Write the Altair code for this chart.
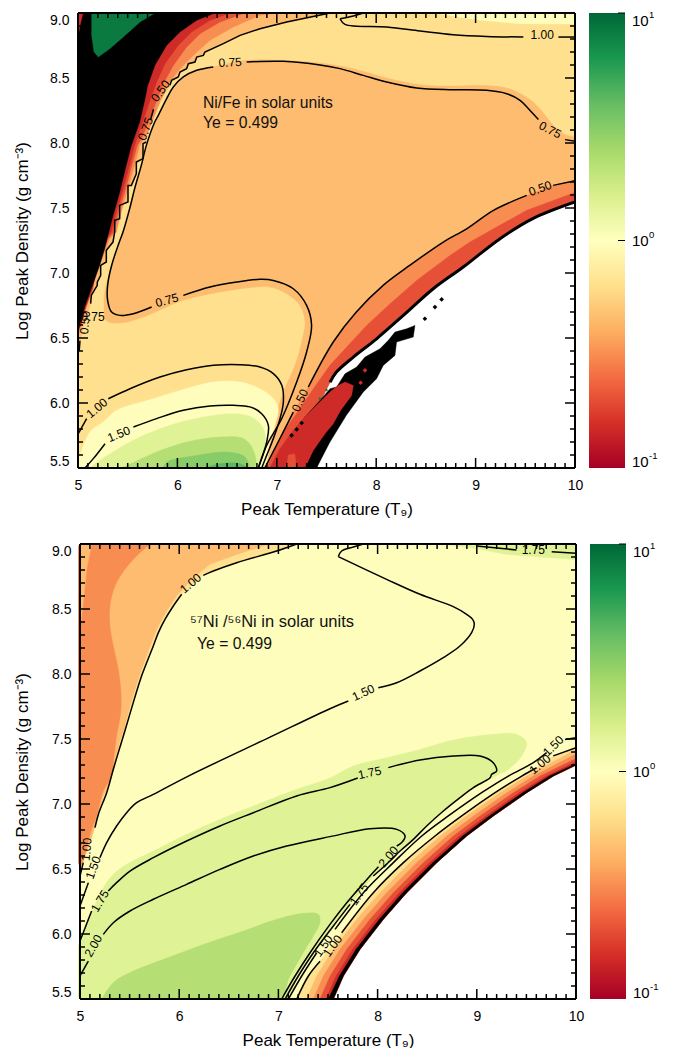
import altair as alt
import pandas as pd

FONT = "Liberation Sans"
W1, W2, H = 497, 498, 455

RED, VERM, ORNG, TAN, BUFF, CREAM, LIME, GRN1, GRN2, GRN3, DKGRN = (
    "#CE2A27", "#E65036", "#F88D52", "#FDBC6F", "#FEE08F", "#FEFDBC",
    "#E0F296", "#B5DF74", "#88CC69", "#5AB762", "#0B7A41")

BAR_COLORS = ["#a50026", "#d73027", "#f46d43", "#fdae61", "#fee08b", "#ffffbf",
              "#d9ef8b", "#a6d96a", "#66bd63", "#1a9850", "#006837"]
BAR_OFFSETS = [0, .1, .2, .3, .4, .5, .6, .7, .8, .9, 1]
X_MAJOR = [5, 6, 7, 8, 9, 10]
Y_MAJOR = [5.5, 6.0, 6.5, 7.0, 7.5, 8.0, 8.5, 9.0]
X_MINOR = [5 + i / 10 for i in range(51) if i % 10]
Y_MINOR = [5.5 + i / 10 for i in range(36) if i % 5]

# ---------- top panel ----------
A_EDGE = [(10, 7.546), (9.58, 7.42), (9.246, 7.264), (8.876, 7.046), (8.574, 6.879), (8.273, 6.674),
          (8.004, 6.494), (7.77, 6.353), (7.60, 6.238), (7.535, 6.16)]
A_DOMAIN = [(5, 9), (10, 9)] + A_EDGE + [(7.45, 6.03), (7.28, 5.89), (7.2, 5.65), (7.2, 5.5), (5, 5.5)]
A_CREAM_TOP = [(8.575, 9), (9.045, 8.944), (9.447, 8.918), (10, 8.915), (10, 9)]
A_C050_LOW = [(10, 7.71), (9.78, 7.674), (9.514, 7.597), (9.18, 7.482), (8.91, 7.34), (8.675, 7.238), (8.34, 7.06),
              (8.07, 6.905), (7.80, 6.70), (7.568, 6.469), (7.317, 6.123), (7.166, 5.93), (7.03, 5.725), (6.88, 5.5)]
A_TAN = [(10, 8.046), (9.883, 8.072), (9.782, 8.136), (9.615, 8.29), (9.48, 8.367), (9.313, 8.423), (9.045, 8.444),
         (8.776, 8.438), (8.441, 8.449), (8.106, 8.50), (7.77, 8.572), (7.435, 8.615), (7.066, 8.636), (6.697, 8.636),
         (6.36, 8.585), (6.194, 8.559), (6.076, 8.508), (5.976, 8.431), (5.892, 8.328), (5.791, 8.187), (5.707, 8.008),
         (5.624, 7.802), (5.54, 7.572), (5.456, 7.34), (5.416, 7.2385), (5.339, 7.06), (5.282, 6.905), (5.262, 6.751),
         (5.282, 6.636), (5.422, 6.615), (5.657, 6.661), (6.06, 6.79), (6.428, 6.854), (6.73, 6.887), (6.93, 6.892),
         (7.10, 6.84), (7.233, 6.75), (7.284, 6.623), (7.25, 6.469), (7.183, 6.29), (7.066, 6.084), (6.965, 5.853),
         (6.864, 5.648), (6.804, 5.5), (6.88, 5.5), (7.03, 5.725), (7.166, 5.93), (7.317, 6.123), (7.568, 6.469),
         (7.80, 6.70), (8.07, 6.905), (8.34, 7.06), (8.675, 7.238), (8.91, 7.34), (9.18, 7.482), (9.514, 7.597),
         (9.78, 7.674), (10, 7.71)]
A_ORNG_LOW = A_C050_LOW + [(7.2, 5.5), (7.2, 5.65), (7.28, 5.89), (7.45, 6.03)] + A_EDGE[::-1]
A_VERM_LOW = [(10, 7.62), (9.514, 7.482), (9.18, 7.34), (8.943, 7.238), (8.742, 7.135), (8.407, 6.943), (8.14, 6.764),
              (7.904, 6.597), (7.703, 6.43), (7.535, 6.29), (7.367, 6.11), (7.233, 5.956), (7.065, 5.776), (6.90, 5.5),
              (7.2, 5.5), (7.2, 5.65), (7.28, 5.89), (7.45, 6.03)] + A_EDGE[::-1]
A_BLACK_LOW = [(7.233, 5.5), (7.40, 5.5), (7.535, 5.70), (7.70, 5.905), (7.87, 6.084), (8.004, 6.187), (8.071, 6.289),
               (8.189, 6.366), (8.205, 6.469), (8.373, 6.507), (8.39, 6.597), (8.306, 6.571), (8.189, 6.546),
               (8.122, 6.482), (8.038, 6.417), (7.887, 6.353), (7.803, 6.276), (7.686, 6.225), (7.602, 6.123),
               (7.535, 6.11), (7.434, 6.02), (7.283, 5.892), (7.2, 5.79), (7.132, 5.648)]
A_RED_LOW = [(7.686, 6.161), (7.77, 6.135), (7.753, 6.058), (7.642, 5.943), (7.568, 5.84), (7.485, 5.764), (7.367, 5.635),
             (7.283, 5.5), (6.931, 5.5), (7.032, 5.648), (7.166, 5.79), (7.30, 5.905), (7.434, 6.007), (7.535, 6.084),
             (7.609, 6.13)]
A_VERM_PATCH = [(7.10, 5.5), (7.115, 5.60), (7.18, 5.61), (7.2, 5.5)]
A_STAIR = [(5.687, 8.008), (5.654, 7.995), (5.654, 7.88), (5.587, 7.854), (5.587, 7.764), (5.537, 7.674), (5.503, 7.674),
           (5.503, 7.546), (5.419, 7.52), (5.419, 7.418), (5.369, 7.405), (5.369, 7.315), (5.352, 7.238), (5.285, 7.174), (5.285, 7.085),
           (5.228, 7.059), (5.228, 6.982), (5.194, 6.93), (5.194, 6.905), (5.134, 6.828), (5.127, 6.764)]
A_TOP_ZIG = [(7.535, 9.0), (7.099, 8.931), (6.831, 8.879), (6.63, 8.828), (6.462, 8.764), (6.277, 8.70), (6.261, 8.674),
             (6.194, 8.661), (6.177, 8.623), (6.11, 8.61), (6.093, 8.572), (6.026, 8.546), (6.009, 8.508), (5.942, 8.482),
             (5.925, 8.444)]
A_TAN_LEFT = A_TOP_ZIG + [(5.76, 8.26), (5.73, 8.18)] + A_STAIR + [(5.06, 6.60), (5.02, 6.48), (5, 6.45), (5, 9)]
A_ORNG_LEFT = [(7.0, 9), (6.831, 8.982), (6.563, 8.892), (6.328, 8.79), (6.177, 8.687), (6.026, 8.572), (5.925, 8.469),
               (5.825, 8.315), (5.704, 8.085), (5.62, 7.98), (5.57, 7.828), (5.503, 7.649), (5.436, 7.47), (5.386, 7.315),
               (5.319, 7.264), (5.268, 7.161), (5.218, 7.059), (5.184, 6.982), (5.141, 6.88), (5.10, 6.777), (5.05, 6.649),
               (5.017, 6.546), (5, 6.5), (5, 9)]
A_VERM_LEFT = [(6.68, 9), (6.429, 8.931), (6.227, 8.84), (6.093, 8.738), (5.959, 8.597), (5.858, 8.456), (5.774, 8.29),
               (5.654, 8.059), (5.597, 7.98), (5.543, 7.828), (5.48, 7.649), (5.409, 7.47), (5.362, 7.315), (5.302, 7.264),
               (5.252, 7.161), (5.201, 7.059), (5.168, 6.97), (5.117, 6.88), (5.084, 6.79), (5.04, 6.674), (5.01, 6.57),
               (5, 6.55), (5, 9)]
A_RED_LEFT = [(6.529, 9), (6.328, 8.944), (6.143, 8.854), (6.009, 8.751), (5.875, 8.61), (5.791, 8.469), (5.707, 8.29),
              (5.627, 8.11), (5.57, 7.98), (5.52, 7.828), (5.456, 7.649), (5.386, 7.47), (5.335, 7.315), (5.285, 7.264),
              (5.241, 7.161), (5.19, 7.059), (5.15, 6.88), (5.08, 6.738), (5.03, 6.60), (5, 6.55), (5, 9)]
A_BLACK_LEFT = [(6.378, 9), (6.194, 8.944), (6.026, 8.854), (5.892, 8.751), (5.775, 8.60), (5.70, 8.44), (5.674, 8.338),
                (5.62, 8.16), (5.537, 7.98), (5.486, 7.83), (5.419, 7.62), (5.352, 7.44), (5.309, 7.31), (5.268, 7.187),
                (5.218, 7.059), (5.134, 6.88), (5.067, 6.738), (5.017, 6.60), (5, 6.546), (5, 9)]
A_DKGRN = [(5.137, 9), (5.775, 9), (5.624, 8.931), (5.456, 8.815), (5.322, 8.726), (5.205, 8.661), (5.161, 8.70), (5.137, 8.828)]
A_RED_SLIVER = [(5, 9), (5.05, 9), (5.02, 8.9), (5, 8.82)]
A_CREAM = [(5, 5.55), (5.12, 5.777), (5.255, 5.854), (5.389, 5.944), (5.758, 6.033), (6.026, 6.097), (6.362, 6.162),
           (6.63, 6.162), (6.83, 6.11), (6.965, 6.033), (7.015, 5.956), (6.982, 5.828), (6.932, 5.70), (6.848, 5.5), (5, 5.5)]
A_LIME = [(5.12, 5.5), (5.171, 5.533), (5.322, 5.61), (5.59, 5.726), (5.925, 5.828), (6.261, 5.892), (6.563, 5.918),
          (6.747, 5.892), (6.865, 5.803), (6.881, 5.674), (6.83, 5.546), (6.797, 5.5)]
A_GRN1 = [(5.44, 5.5), (5.791, 5.623), (6.093, 5.70), (6.429, 5.738), (6.663, 5.726), (6.764, 5.636), (6.77, 5.5)]
A_GRN2 = [(5.858, 5.5), (5.892, 5.546), (6.194, 5.597), (6.496, 5.623), (6.68, 5.585), (6.713, 5.5)]
A_GRN3 = [(6.261, 5.5), (6.429, 5.533), (6.63, 5.533), (6.697, 5.5)]

A_BLOBS = [(8.49, 6.648), (8.591, 6.738), (8.658, 6.797), (7.25, 5.846), (7.20, 5.797), (7.149, 5.751)]
A_RED_DOTS = [(7.887, 6.251), (7.843, 6.156)]
A_GRN_DOTS = [(7.50, 6.10), (7.434, 6.033)]

A_LINES = [
    [(10, 7.71), (9.78, 7.674)],
    [(9.514, 7.597), (9.18, 7.482), (8.91, 7.34), (8.675, 7.238), (8.34, 7.06), (8.07, 6.905), (7.80, 6.70), (7.568, 6.469), (7.317, 6.123)],
    [(7.166, 5.93), (7.03, 5.725), (6.88, 5.5)],
    [(6.361, 8.585), (6.194, 8.559), (6.06, 8.508), (5.959, 8.431), (5.892, 8.341), (5.808, 8.213), (5.771, 8.16), (5.687, 7.98),
     (5.637, 7.828), (5.57, 7.649), (5.52, 7.495), (5.453, 7.315), (5.416, 7.2385), (5.339, 7.06), (5.298, 6.905), (5.298, 6.79),
     (5.338, 6.70), (5.422, 6.674), (5.557, 6.687), (5.741, 6.738)],
    [(6.06, 6.828), (6.328, 6.892), (6.596, 6.93), (6.83, 6.951), (6.965, 6.943), (7.166, 6.879), (7.30, 6.751), (7.35, 6.597),
     (7.30, 6.392), (7.20, 6.161), (7.049, 5.879), (6.898, 5.674), (6.814, 5.5)],
    [(6.697, 8.623), (7.066, 8.628), (7.435, 8.60), (7.636, 8.572), (7.871, 8.52), (8.106, 8.469), (8.408, 8.423), (8.776, 8.41),
     (9.112, 8.405), (9.313, 8.379), (9.447, 8.328), (9.548, 8.25), (9.632, 8.18)],
    [(9.9, 8.026), (10, 8.013)],
    [(7.871, 9.0), (7.77, 8.977), (7.636, 8.956)],
    [(7.636, 8.956), (7.686, 8.913), (8.106, 8.892), (8.441, 8.862), (8.776, 8.833), (9.112, 8.82), (9.48, 8.815)],
    [(9.833, 8.815), (10, 8.815)],
    [(5, 5.76), (5.087, 5.879)],
    [(5.305, 6.033), (5.523, 6.11), (5.825, 6.2), (6.093, 6.256), (6.362, 6.29), (6.63, 6.295), (6.83, 6.277), (6.965, 6.226),
     (7.05, 6.136), (7.066, 6.008), (7.032, 5.879), (6.965, 5.726), (6.898, 5.597), (6.848, 5.5)],
    [(5.07, 5.5), (5.154, 5.572), (5.272, 5.687)],
    [(5.557, 5.815), (5.791, 5.88), (6.06, 5.944), (6.328, 5.977), (6.563, 5.982), (6.73, 5.97), (6.848, 5.918), (6.915, 5.828),
     (6.898, 5.70), (6.848, 5.572), (6.814, 5.5)],
]
A_ZIGS = [A_TOP_ZIG, [(5.76, 8.26), (5.73, 8.18)], A_STAIR, [(5.02, 6.48), (5.012, 6.40)]]
A_LABELS = [("0.75", 6.53, 8.62, 357), ("0.75", 9.75, 8.10, 27), ("0.75", 5.895, 6.79, 345), ("1.00", 9.67, 8.83, 0),
            ("0.50", 9.65, 7.65, 340), ("1.00", 5.19, 5.96, 320), ("1.50", 5.41, 5.76, 338), ("0.50", 7.233, 6.02, 295),
            ("0.50", 5.83, 8.40, 305), ("0.75", 5.68, 8.108, 290), ("0.75", 5.15, 6.66, 0), ("0.50", 5.07, 6.62, 275)]

# ---------- bottom panel ----------
B_EDGE = [(10, 7.30), (9.772, 7.215), (9.503, 7.087), (9.167, 6.908), (8.898, 6.754), (8.596, 6.549), (8.293, 6.318),
          (8.058, 6.113), (7.823, 5.882), (7.655, 5.677), (7.554, 5.5)]
B_DOMAIN = [(5, 9), (10, 9)] + B_EDGE + [(5, 5.5)]
B_C100_LOW = [(10, 7.433), (9.771, 7.37), (9.603, 7.279), (9.453, 7.215), (9.184, 7.087), (8.848, 6.908), (8.579, 6.754),
              (8.26, 6.549), (7.957, 6.318), (7.638, 6.01), (7.302, 5.677), (7.185, 5.5)]
B_TAN_LOW = [(10, 7.42), (9.503, 7.215), (9.234, 7.087), (8.898, 6.908), (8.63, 6.754), (8.327, 6.549), (8.025, 6.318),
             (7.789, 6.113), (7.554, 5.882), (7.386, 5.677), (7.285, 5.5)]
B_ORNG_LOW = [(10, 7.385), (9.57, 7.215), (9.302, 7.087), (8.966, 6.908), (8.697, 6.754), (8.394, 6.549), (8.092, 6.318),
              (7.857, 6.113), (7.621, 5.882), (7.453, 5.677), (7.353, 5.5)]
B_VERM_LOW = [(10, 7.35), (9.637, 7.215), (9.369, 7.087), (9.033, 6.908), (8.764, 6.754), (8.461, 6.549), (8.159, 6.318),
              (7.924, 6.113), (7.689, 5.882), (7.521, 5.677), (7.42, 5.5)]
B_RED_LOW = [(10, 7.325), (9.698, 7.215), (9.429, 7.087), (9.093, 6.908), (8.824, 6.754), (8.522, 6.549), (8.22, 6.318),
             (7.984, 6.113), (7.749, 5.882), (7.581, 5.677), (7.48, 5.5)]
B_BLACK_LOW = [(10, 7.31), (9.732, 7.215), (9.463, 7.087), (9.127, 6.908), (8.858, 6.754), (8.556, 6.549), (8.253, 6.318),
               (8.018, 6.113), (7.783, 5.882), (7.615, 5.677), (7.504, 5.5)]
B_LIME = [(5, 5.96), (5.1, 6.138), (5.235, 6.356), (5.336, 6.459), (5.47, 6.536), (5.739, 6.638), (6.075, 6.767), (6.411, 6.882),
          (6.747, 6.985), (7.184, 7.113), (7.52, 7.2), (7.755, 7.292), (8.091, 7.356), (8.427, 7.42), (8.763, 7.492), (9.166, 7.536),
          (9.4, 7.536), (9.502, 7.472), (9.452, 7.369), (9.318, 7.267), (9.15, 7.20), (8.966, 7.12), (8.831, 7.05), (8.663, 6.95),
          (8.495, 6.83), (8.361, 6.73), (8.226, 6.64), (8.125, 6.56), (7.957, 6.44), (7.72, 6.22), (7.55, 6.05), (7.35, 5.85),
          (7.2, 5.67), (7.05, 5.5), (5, 5.5)]
B_LIME_TOP = [(8.662, 9), (9.032, 8.959), (9.3, 8.92), (9.637, 8.90), (10, 8.88), (10, 9)]
B_GRN1 = [(5.218, 5.5), (5.336, 5.626), (5.504, 5.703), (5.84, 5.805), (6.243, 5.92), (6.646, 6.023), (6.982, 6.113), (7.251, 6.159),
          (7.402, 6.151), (7.419, 6.087), (7.352, 5.985), (7.251, 5.856), (7.117, 5.677), (6.999, 5.5)]
B_C100_TOP = [(7.184, 9), (6.982, 8.946), (6.579, 8.856), (6.344, 8.792), (6.243, 8.759)]
B_C100_MID = [(6.025, 8.613), (5.941, 8.523), (5.857, 8.42), (5.79, 8.318), (5.739, 8.215), (5.679, 8.1), (5.621, 7.985), (5.588, 7.908),
              (5.537, 7.78), (5.487, 7.651), (5.437, 7.523), (5.386, 7.395), (5.336, 7.267), (5.269, 7.087), (5.185, 6.92), (5.151, 6.818)]
B_C100_END = [(5.033, 6.549), (5, 6.446)]
B_BUFF_LEFT = B_C100_TOP + B_C100_MID + B_C100_END + [(5, 9)]
B_TAN_LEFT = [(6.915, 9), (6.579, 8.92), (6.31, 8.844), (6.142, 8.741), (5.974, 8.6), (5.873, 8.484), (5.773, 8.344), (5.689, 8.177),
              (5.621, 8.036), (5.554, 7.882), (5.504, 7.754), (5.453, 7.6), (5.396, 7.472), (5.353, 7.318), (5.319, 7.215), (5.302, 7.164),
              (5.235, 7.062), (5.185, 6.93), (5.151, 6.83), (5.1, 6.7), (5, 6.5), (5, 9)]
B_ORNG_LEFT = [(5.705, 9), (5.571, 8.908), (5.453, 8.805), (5.353, 8.677), (5.302, 8.523), (5.302, 8.369), (5.336, 8.215), (5.386, 8.036),
               (5.413, 7.856), (5.41, 7.7), (5.369, 7.523), (5.336, 7.318), (5.319, 7.215), (5.235, 7.1), (5.168, 6.908), (5.117, 6.805),
               (5, 6.52), (5, 9)]
B_TAN_CORNER = [(5, 9), (5.117, 9), (5.067, 8.805), (5.033, 8.549), (5, 8.343)]

B_LINES = [
    B_C100_TOP, B_C100_MID, B_C100_END,
    [(7.856, 9), (7.755, 8.977), (7.637, 8.946), (7.604, 8.903)],
    [(7.604, 8.903), (8.091, 8.728), (8.427, 8.613), (8.763, 8.518), (8.897, 8.459), (8.958, 8.42),
     (8.975, 8.382), (8.948, 8.318), (8.83, 8.215), (8.662, 8.126), (8.427, 8.023), (8.192, 7.933), (8.007, 7.895)],
    [(7.705, 7.792), (7.52, 7.733), (6.915, 7.514), (6.092, 7.215), (5.739, 7.074), (5.571, 7.01), (5.47, 6.933), (5.369, 6.831), (5.269, 6.703), (5.201, 6.587)],
    [(5.084, 6.395), (5, 6.215)],
    [(5, 5.946), (5.117, 6.177)],
    [(5.285, 6.331), (5.369, 6.395), (5.504, 6.484), (5.739, 6.587), (6.075, 6.715), (6.411, 6.831), (6.747, 6.933), (7.184, 7.062), (7.52, 7.126), (7.8, 7.2)],
    [(8.108, 7.28), (8.427, 7.339), (8.763, 7.369), (9.032, 7.369), (9.166, 7.318), (9.2, 7.254), (9.15, 7.228), (9.134, 7.202), (8.966, 7.126),
     (8.831, 7.049), (8.663, 6.946), (8.495, 6.831), (8.361, 6.728), (8.226, 6.638), (8.125, 6.562), (7.957, 6.446)],
    [(7.722, 6.228), (7.554, 6.062), (7.353, 5.856), (7.201, 5.677), (7.067, 5.5)],
    [(5, 5.677), (5.084, 5.792)],
    [(5.235, 5.997), (5.336, 6.087), (5.504, 6.177), (5.739, 6.267), (6.075, 6.382), (6.411, 6.497), (6.747, 6.60), (7.083, 6.677), (7.52, 6.749),
     (7.924, 6.81), (8.193, 6.805), (8.277, 6.754), (8.243, 6.703), (8.193, 6.677)],
    [(8.008, 6.518), (7.907, 6.433), (7.689, 6.241), (7.52, 6.074), (7.319, 5.856), (7.168, 5.677), (7.033, 5.5)],
    [(7.101, 5.5), (7.235, 5.677), (7.386, 5.856)],
    [(7.571, 6.036), (7.857, 6.318), (8.159, 6.549), (8.445, 6.754), (8.713, 6.908), (9.049, 7.087), (9.318, 7.215), (9.57, 7.318), (9.704, 7.395)],
    [(9.889, 7.497), (10, 7.51)],
    [(7.185, 5.5), (7.302, 5.677), (7.42, 5.79)],
    [(7.638, 6.01), (7.957, 6.318), (8.26, 6.549), (8.579, 6.754), (8.848, 6.908), (9.184, 7.087), (9.453, 7.215), (9.603, 7.279)],
    [(9.771, 7.37), (10, 7.433)],
    [(8.998, 8.985), (9.4, 8.954)],
    [(9.755, 8.94), (10, 8.928)],
]
B_LABELS = [("1.00", 6.115, 8.697, 320), ("1.50", 7.856, 7.856, 335), ("1.75", 7.92, 7.24, 348), ("2.00", 5.134, 5.908, 300),
            ("1.75", 5.201, 6.254, 300), ("1.50", 5.134, 6.51, 290), ("1.00", 5.067, 6.651, 275), ("1.75", 9.57, 8.954, 0),
            ("1.50", 9.771, 7.446, 315), ("1.00", 9.637, 7.305, 320), ("2.00", 8.109, 6.595, 310), ("1.75", 7.813, 6.305, 305),
            ("1.50", 7.453, 5.908, 305), ("1.00", 7.548, 5.908, 305)]

Y_SCALE = alt.Scale(domain=[5.5, 9], nice=False, zero=False)
NX = None
NY = None


def set_axes(x_range, label_pad, title_pad):
    global NX, NY
    NX = alt.X("T:Q", scale=alt.Scale(domain=[5, 10], range=x_range, nice=False, zero=False), title="Peak Temperature (T₉)",
               axis=alt.Axis(values=X_MAJOR, format="d", grid=False, ticks=False, domain=False, labelFontSize=14,
                             labelPadding=10, labelFlush=False, titleFontSize=17, titleFontWeight="normal", titlePadding=9,
                             labelFont=FONT, titleFont=FONT, labelColor="black", titleColor="black"))
    NY = alt.Y("R:Q", scale=Y_SCALE, title="Log Peak Density (g cm⁻³)",
               axis=alt.Axis(values=Y_MAJOR, format=".1f", grid=False, ticks=False, domain=False, labelFontSize=14,
                             labelPadding=label_pad, titleFontSize=17, titleFontWeight="normal", titlePadding=title_pad,
                             labelFlush=True, labelFlushOffset=0,
                             labelFont=FONT, titleFont=FONT, labelColor="black", titleColor="black"))


def frame(pts):
    return pd.DataFrame({"T": [p[0] for p in pts], "R": [p[1] for p in pts], "i": range(len(pts))})


def poly(pts, color, interp="linear"):
    closed = list(pts) + [pts[0]]
    return alt.Chart(frame(closed)).mark_line(fill=color, stroke=color, strokeWidth=0.4, clip=True,
                                              interpolate=interp).encode(x=NX, y=NY, order="i:Q")


def curve(pts, width=1.5, interp="catmull-rom"):
    return alt.Chart(frame(pts)).mark_line(color="black", strokeWidth=width, interpolate=interp, clip=True).encode(
        x=NX, y=NY, order="i:Q")


def dots(pts, color, size):
    return alt.Chart(frame(pts)).mark_point(shape="diamond", filled=True, color=color, size=size, opacity=1, clip=True).encode(x=NX, y=NY)


def label(text, t, r, angle=0, size=12):
    return alt.Chart(pd.DataFrame({"T": [t], "R": [r], "s": [text]})).mark_text(
        font=FONT, fontSize=size, angle=angle, color="black").encode(x=NX, y=NY, text="s:N")


def note(text, t, r, size=15.7):
    return alt.Chart(pd.DataFrame({"T": [t], "R": [r], "s": [text]})).mark_text(
        font=FONT, fontSize=size, align="left", color="#111111").encode(x=NX, y=NY, text="s:N")


def tick_rules(left, right):
    layers = []
    for vals, size in ((X_MAJOR, 10), (X_MINOR, 5)):
        d = pd.DataFrame({"T": vals})
        r = alt.Chart(d).mark_rule(color="black", strokeWidth=1.5)
        layers.append(r.encode(x=NX, y=alt.value(0), y2=alt.value(size)))
        layers.append(r.encode(x=NX, y=alt.value(H), y2=alt.value(H - size)))
    for vals, size in ((Y_MAJOR, 10), (Y_MINOR, 5)):
        d = pd.DataFrame({"R": vals})
        r = alt.Chart(d).mark_rule(color="black", strokeWidth=1.5)
        layers.append(r.encode(y=NY, x=alt.value(left), x2=alt.value(left + size)))
        layers.append(r.encode(y=NY, x=alt.value(right), x2=alt.value(right - size)))
    box_x = alt.Chart(pd.DataFrame({"T": [5, 10]})).mark_rule(color="black", strokeWidth=2)
    box_y = alt.Chart(pd.DataFrame({"R": [5.5, 9]})).mark_rule(color="black", strokeWidth=2)
    layers.append(box_x.encode(x=NX, y=alt.value(0), y2=alt.value(H)))
    layers.append(box_y.encode(y=NY, x=alt.value(left), x2=alt.value(right)))
    return layers


def colorbar():
    grad = {"gradient": "linear", "x1": 0, "y1": 1, "x2": 0, "y2": 0,
            "stops": [{"offset": o, "color": c} for o, c in zip(BAR_OFFSETS, BAR_COLORS)]}
    ys = alt.Scale(type="log", domain=[0.1, 10], nice=False)
    rect = alt.Chart(pd.DataFrame({"lo": [0.1], "hi": [10]})).mark_rect(color=grad).encode(
        x=alt.value(0), x2=alt.value(36),
        y=alt.Y("lo:Q", scale=ys, axis=None), y2="hi:Q")
    tick = alt.Chart(pd.DataFrame({"v": [1.0, 10.0]})).mark_rule(color="black", strokeWidth=1).encode(
        x=alt.value(29), x2=alt.value(36), y=alt.Y("v:Q", scale=ys, axis=None))
    big = []
    for val, exp, dy in ((10.0, "1", 8), (1.0, "0", 0), (0.1, "-1", -6)):
        d = pd.DataFrame({"v": [val], "s": ["10"], "e": [exp]})
        big.append(alt.Chart(d).mark_text(font=FONT, fontSize=15, align="left", dy=dy, color="black").encode(
            x=alt.value(43), y=alt.Y("v:Q", scale=ys, axis=None), text="s:N"))
        big.append(alt.Chart(d).mark_text(font=FONT, fontSize=9.5, align="left", dy=dy - 6, color="black").encode(
            x=alt.value(60), y=alt.Y("v:Q", scale=ys, axis=None), text="e:N"))
    return alt.layer(rect, tick, *big).properties(width=36, height=H)


SM = "catmull-rom"
set_axes([0, W1], 9, 18)
panel_a = alt.layer(
    poly(A_DOMAIN, BUFF), poly(A_CREAM_TOP, CREAM), poly(A_TAN, TAN, SM), poly(A_ORNG_LOW, ORNG), poly(A_VERM_LOW, VERM),
    poly(A_BLACK_LOW, "black"), poly(A_RED_LOW, RED), poly(A_VERM_PATCH, VERM),
    poly(A_TAN_LEFT, TAN), poly(A_ORNG_LEFT, ORNG), poly(A_VERM_LEFT, VERM), poly(A_RED_LEFT, RED), poly(A_BLACK_LEFT, "black"),
    poly(A_DKGRN, DKGRN), poly(A_RED_SLIVER, RED),
    poly(A_CREAM, CREAM, SM), poly(A_LIME, LIME, SM), poly(A_GRN1, GRN1, SM), poly(A_GRN2, GRN2, SM), poly(A_GRN3, GRN3, SM),
    dots(A_BLOBS, "black", 22), dots(A_RED_DOTS, RED, 22), dots(A_GRN_DOTS, DKGRN, 10),
    curve(A_EDGE, 3), *[curve(c) for c in A_LINES], *[curve(c, 1.5, "linear") for c in A_ZIGS],
    *[label(*l) for l in A_LABELS],
    note("Ni/Fe in solar units", 6.258, 8.31), note("Ye = 0.499", 6.258, 8.154),
    *tick_rules(0, W1),
).properties(width=W1, height=H)

set_axes([2, W2], 7, 20)
panel_b = alt.layer(
    poly(B_DOMAIN, CREAM), poly(B_LIME, LIME, SM), poly(B_LIME_TOP, LIME), poly(B_GRN1, GRN1, SM),
    poly(B_BUFF_LEFT, BUFF), poly(B_TAN_LEFT, TAN), poly(B_ORNG_LEFT, ORNG, SM), poly(B_TAN_CORNER, TAN),
    poly(B_C100_LOW + B_EDGE[::-1], BUFF), poly(B_TAN_LOW + B_EDGE[::-1], TAN), poly(B_ORNG_LOW + B_EDGE[::-1], ORNG),
    poly(B_VERM_LOW + B_EDGE[::-1], VERM), poly(B_RED_LOW + B_EDGE[::-1], RED), poly(B_BLACK_LOW + B_EDGE[::-1], "black"),
    *[curve(c) for c in B_LINES],
    *[label(*l) for l in B_LABELS],
    note("⁵⁷Ni /⁵⁶Ni in solar units", 6.109, 8.40, 16.5), note("Ye = 0.499", 6.18, 8.23),
    *tick_rules(2, W2),
).properties(width=W2, height=H)

row_a = alt.hconcat(panel_a, colorbar(), spacing=6)
row_b = alt.hconcat(panel_b, colorbar(), spacing=6)
chart = alt.vconcat(row_a, row_b, spacing=24).properties(
    padding={"left": 5, "right": 0, "top": 2, "bottom": 0}
).configure_view(stroke=None)

chart.save("out.html", embed_options={"renderer": "svg", "actions": False})
